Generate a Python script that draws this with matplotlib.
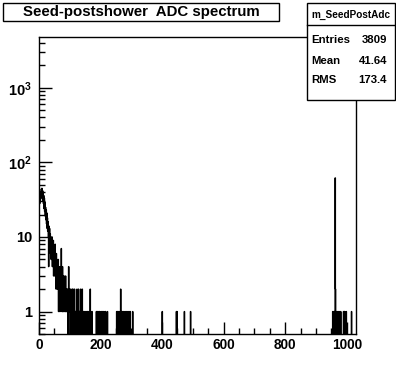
import numpy as np
import matplotlib
matplotlib.use("Agg")
import matplotlib.pyplot as plt
from matplotlib.patches import Rectangle
from matplotlib.lines import Line2D
from matplotlib.ticker import MultipleLocator, FixedLocator, FixedFormatter, LogLocator, NullFormatter

plt.rcParams['font.family'] = ['Liberation Sans', 'DejaVu Sans']
plt.rcParams['font.weight'] = 'bold'
plt.rcParams['mathtext.fontset'] = 'custom'
plt.rcParams['mathtext.rm'] = 'Liberation Sans:bold'
plt.rcParams['mathtext.bf'] = 'Liberation Sans:bold'
plt.rcParams['mathtext.it'] = 'Liberation Sans:bold'

# histogram: 1-ADC-count bins from 0 to 1030
x_max = 1030

# counts of the first 150 bins (ADC 0..149)
peak_counts = [
    26, 34, 28, 37, 31, 40, 33, 44, 36, 45,
    34, 42, 31, 40, 28, 36, 24, 33, 22, 29,
    19, 25, 17, 23, 15, 21, 13, 18, 12, 16,
    10, 4, 14, 8, 13, 7, 11, 6, 10, 5,
    9, 5, 10, 4, 8, 6, 9, 3, 7, 4,
    6, 3, 8, 3, 5, 2, 6, 3, 5, 2,
    4, 2, 5, 1, 4, 2, 3, 1, 4, 2,
    3, 1, 7, 2, 3, 1, 4, 1, 3, 1,
    2, 3, 1, 2, 2, 1, 3, 1, 2, 1,
    2, 1, 1, 2, 0, 1, 4, 1, 2, 1,
    1, 0, 2, 1, 1, 0, 1, 2, 1, 0,
    2, 1, 0, 1, 1, 2, 0, 1, 1, 0,
    1, 1, 0, 2, 1, 0, 1, 1, 2, 0,
    1, 0, 1, 1, 0, 2, 1, 0, 1, 1,
    2, 0, 1, 0, 1, 1, 0, 0, 1, 0,
]

# isolated bins further out (ADC value, count)
tail_adc = [151, 153, 156, 158, 160, 166, 168, 172,
            186, 188, 190, 193, 195, 197, 201, 204, 207, 210, 214, 216, 222,
            252, 254, 256, 259, 261, 265, 268, 270, 273, 276, 280, 283, 286,
            290, 294, 296, 304,
            400, 446, 448, 472, 492,
            954, 957, 959, 961, 962, 963, 966, 970, 973, 977, 980, 989, 991,
            993, 998, 1015]
tail_counts = [1, 1, 1, 1, 1, 2, 1, 1,
               1, 1, 1, 1, 1, 1, 1, 1, 1, 1, 1, 1, 1,
               1, 1, 1, 1, 1, 2, 1, 1, 1, 1, 1, 1, 1,
               1, 1, 1, 1,
               1, 1, 1, 1, 1,
               1, 1, 1, 1, 62, 2, 1, 1, 1, 1, 1, 1, 1,
               1, 1, 1]

edges = np.arange(0, x_max + 1, 1)
counts = np.zeros(len(edges) - 1)
counts[:len(peak_counts)] = peak_counts
for adc, c in zip(tail_adc, tail_counts):
    counts[adc] = c

W, H = 396, 372
fig = plt.figure(figsize=(W / 100, H / 100), dpi=100)
ax = fig.add_axes([39 / W, 1 - 334 / H, (356 - 39) / W, (334 - 37) / H])

# empty bins drop to the bottom of the log axis
draw = np.where(counts > 0, counts, 1e-3)
ax.stairs(draw, edges, color='black', lw=1.0, baseline=None)

ax.set_yscale('log')
ax.set_xlim(0, x_max)
ax.set_ylim(0.5, 4800)

ax.xaxis.set_major_locator(MultipleLocator(200))
ax.xaxis.set_minor_locator(MultipleLocator(50))
ax.yaxis.set_major_locator(FixedLocator([1, 10, 100, 1000]))
ax.yaxis.set_major_formatter(FixedFormatter(['1', '10', r'$10^{2}$', r'$10^{3}$']))
ax.yaxis.set_minor_locator(LogLocator(base=10, subs=np.arange(2, 10)))
ax.yaxis.set_minor_formatter(NullFormatter())

ax.tick_params(which='both', direction='in', top=False, right=False, width=1)
ax.tick_params(axis='x', which='major', length=9, labelsize=9.8, pad=3)
ax.tick_params(axis='x', which='minor', length=4.5)
ax.tick_params(axis='y', which='major', length=9, labelsize=10.5, pad=5)
ax.tick_params(axis='y', which='minor', length=4.5)
for lab in ax.get_xticklabels() + ax.get_yticklabels():
    lab.set_fontweight('bold')
for s in ax.spines.values():
    s.set_linewidth(1)


def px(x, y):
    return x / W, 1 - y / H


# title box
x0, y0 = px(3, 21)
x1, y1 = px(279, 3.3)
fig.add_artist(Rectangle((x0, y0), x1 - x0, y1 - y0, transform=fig.transFigure,
                         facecolor='white', edgecolor='black', lw=1, zorder=5))
fig.text((x0 + x1) / 2, (y0 + y1) / 2, 'Seed-postshower  ADC spectrum',
         ha='center', va='center', fontsize=10.8, fontweight='bold', zorder=6)

# stats box
x0, y0 = px(307, 99.5)
x1, y1 = px(395, 3.3)
fig.add_artist(Rectangle((x0, y0), x1 - x0, y1 - y0, transform=fig.transFigure,
                         facecolor='white', edgecolor='black', lw=1, zorder=5))
sy = px(0, 25)[1]
fig.add_artist(Line2D([x0, x1], [sy, sy], transform=fig.transFigure,
                      color='black', lw=1, zorder=6))
fig.text((x0 + x1) / 2, px(0, 14.5)[1], 'm_SeedPostAdc', ha='center', va='center',
         fontsize=7.2, fontweight='bold', zorder=6)
stat_names = ['Entries', 'Mean', 'RMS']
stat_values = ['3809', '41.64', '173.4']
stat_rows_y = [40, 61, 80]
for name, val, ry in zip(stat_names, stat_values, stat_rows_y):
    fig.text(px(311, 0)[0], px(0, ry)[1], name, ha='left', va='center',
             fontsize=8.2, fontweight='bold', zorder=6)
    fig.text(px(387, 0)[0], px(0, ry)[1], val, ha='right', va='center',
             fontsize=8.2, fontweight='bold', zorder=6)

fig.savefig('out.png', dpi=100)
